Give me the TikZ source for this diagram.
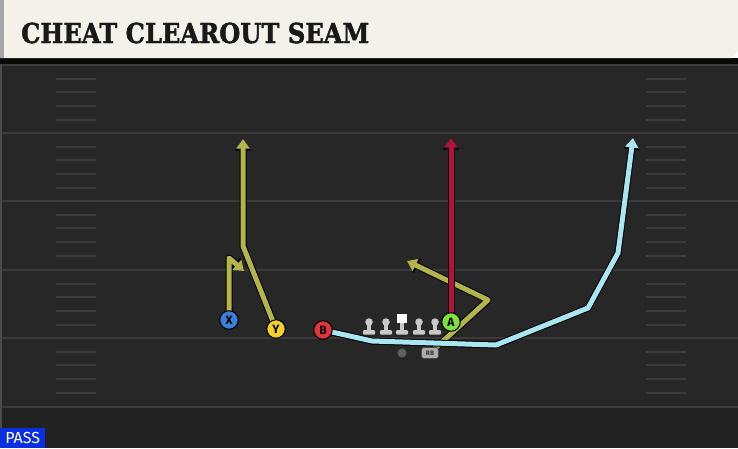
\documentclass[tikz,border=0pt]{standalone}
\usepackage{fontspec}
\setmainfont{Fira Sans}
\newfontfamily\titlefont[BoldFeatures={FakeBold=1.6}]{DejaVu Serif}
\usetikzlibrary{arrows.meta}
\definecolor{field}{HTML}{272727}
\definecolor{fieldlow}{HTML}{222222}
\definecolor{yardline}{HTML}{3B3B3B}
\definecolor{hdr}{HTML}{F4F1EA}
\definecolor{olive}{HTML}{B3B44A}
\definecolor{sky}{HTML}{A8E6F2}
\definecolor{crim}{HTML}{B3123C}
\definecolor{pblue}{HTML}{3B7FDC}
\definecolor{pyellow}{HTML}{F5CF2A}
\definecolor{pred}{HTML}{E0353F}
\definecolor{pgreen}{HTML}{7FE03A}
\definecolor{passblue}{HTML}{0A2FE0}
\definecolor{lineman}{HTML}{C9C9C9}
\tikzset{
  player/.style={circle, draw=black, line width=1pt, minimum size=18.5pt, inner sep=0pt, font=\bfseries\fontsize{12}{12}\selectfont},
  route/.style={line width=5pt, line join=round, -{Triangle[length=9.5pt,width=13pt]},
     preaction={draw=black, line width=7pt, line join=round, -{Triangle[length=11.5pt,width=15.5pt]}}},
  yl/.style={draw=yardline, line width=2pt},
  hash/.style={draw=yardline, line width=1.6pt},
  linehead/.style={circle, fill=lineman, minimum size=7.5pt, inner sep=0pt},
}
\begin{document}
\begin{tikzpicture}[x=1pt,y=-1pt]
\useasboundingbox (0,0) rectangle (738,448);
% field
\fill[field] (0,58) rectangle (738,448);
\fill[fieldlow] (0,408) rectangle (738,448);
\fill[black!80!field] (0,58) rectangle (738,64);
\fill[black!40!gray] (0,64) rectangle (2,428);
% yard lines
\foreach \y in {65,133,201,270,338,407} \draw[yl] (2,\y) -- (738,\y);
\foreach \y in {65,133,201,270,338} {
  \foreach \d in {14,27,41,55} {
    \draw[hash] (56,\y+\d) -- (96,\y+\d);
    \draw[hash] (646,\y+\d) -- (686,\y+\d);
  }
}
% header
\fill[hdr] (0,0) -- (738,0) -- (738,50) -- (733,58) -- (0,58) -- cycle;
\fill[gray!70] (0,0) rectangle (4,58);
\node[anchor=west, inner sep=0pt, font=\titlefont\bfseries\fontsize{27.5}{27.5}\selectfont, text=black!90] (title) at (21,33) {\scalebox{0.88}[1]{CHEAT CLEAROUT SEAM}};
% PASS label
\node[anchor=south west, fill=passblue, text=white, inner sep=0pt, minimum width=45pt, minimum height=20pt, font=\fontsize{16}{16}\selectfont] (pass) at (0,448) {PASS};
% linemen
\foreach \x/\n in {369/l1,386/l2,419/l4,435/l5} {
  \fill[lineman] (\x-2.2,322) rectangle (\x+2.2,332);
  \fill[lineman, rounded corners=1pt] (\x-6,330) rectangle (\x+6,334.5);
  \node[linehead] (\n) at (\x,322) {};
}
\fill[lineman] (399.8,322) rectangle (404.2,332);
\fill[lineman, rounded corners=1pt] (396,330) rectangle (408,334.5);
\node[fill=white, minimum size=9.5pt, inner sep=0pt] (C) at (402,318.5) {};
% QB dot
\node[circle, fill=gray!75!black, minimum size=9pt, inner sep=0pt] (QB) at (402,353) {};
% routes (drawn before players)
\coordinate (x1) at (229,258);
\coordinate (x2) at (244,271);
\coordinate (y1) at (243,246);
\coordinate (y2) at (243,139);
\coordinate (r1) at (488,300);
\coordinate (r2) at (407,261);
\coordinate (a2) at (451,138);
\coordinate (b1) at (372,341);
\coordinate (b2) at (496,345);
\coordinate (b3) at (588,308);
\coordinate (b4) at (618,253);
\coordinate (b5) at (633,138);
\coordinate (Xp) at (229,320);
\coordinate (Yp) at (276,329);
\coordinate (Bp) at (323,330);
\coordinate (Ap) at (451,322);
\coordinate (RBp) at (430,353);
\draw[route, draw=olive] (Xp) -- (x1) -- (x2);
\draw[route, draw=olive] (Yp) -- (y1) -- (y2);
\draw[route, draw=olive] (RBp) -- (r1) -- (r2);
\draw[route, draw=crim] (Ap) -- (a2);
\draw[route, draw=sky] (Bp) -- (b1) -- (b2) -- (b3) -- (b4) -- (b5);
% players
\node[player, fill=pblue] (X) at (Xp) {X};
\node[player, fill=pyellow] (Y) at (Yp) {Y};
\node[player, fill=pred] (B) at (Bp) {B};
\node[player, fill=pgreen] (A) at (Ap) {A};
\node[draw=black!70, line width=0.7pt, fill=gray!65, rounded corners=2.5pt, minimum width=17pt, minimum height=11pt, inner sep=0pt, font=\bfseries\fontsize{6.5}{6.5}\selectfont, text=black!80] (RB) at (RBp) {RB};
\end{tikzpicture}
\end{document}
